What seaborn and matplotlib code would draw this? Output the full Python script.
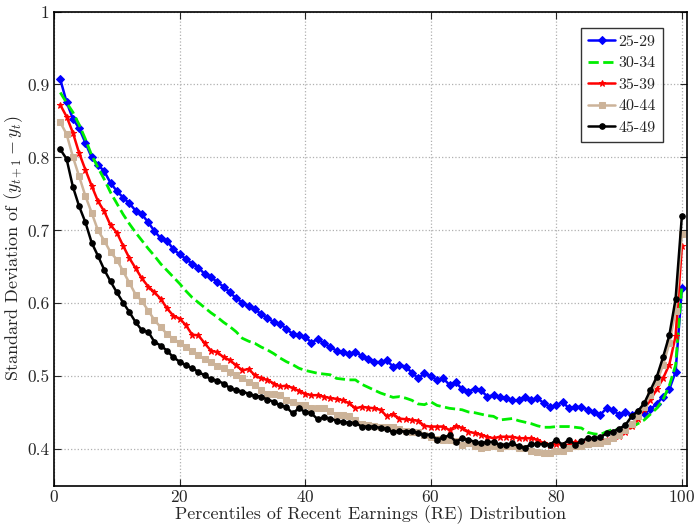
import numpy as np
import pandas as pd
import matplotlib
matplotlib.use("Agg")
import matplotlib.pyplot as plt
import seaborn as sns

# percentiles of recent earnings
percentiles = list(range(1, 101))

sd_25_29 = [
    0.907, 0.876, 0.853, 0.840, 0.820, 0.800, 0.790, 0.781, 0.765, 0.754,
    0.745, 0.737, 0.727, 0.722, 0.711, 0.699, 0.689, 0.686, 0.674, 0.667,
    0.661, 0.654, 0.649, 0.640, 0.636, 0.629, 0.623, 0.615, 0.607, 0.601,
    0.596, 0.592, 0.585, 0.580, 0.574, 0.572, 0.565, 0.558, 0.556, 0.554,
    0.546, 0.551, 0.545, 0.540, 0.535, 0.533, 0.531, 0.533, 0.528, 0.524,
    0.520, 0.519, 0.522, 0.513, 0.516, 0.513, 0.505, 0.497, 0.504, 0.500,
    0.495, 0.497, 0.488, 0.492, 0.482, 0.479, 0.483, 0.481, 0.472, 0.474,
    0.472, 0.470, 0.467, 0.467, 0.472, 0.467, 0.470, 0.463, 0.458, 0.460,
    0.465, 0.456, 0.458, 0.458, 0.454, 0.451, 0.447, 0.456, 0.454, 0.447,
    0.451, 0.447, 0.451, 0.450, 0.455, 0.462, 0.472, 0.482, 0.506, 0.621,
]

sd_30_34 = [
    0.889, 0.875, 0.862, 0.845, 0.825, 0.803, 0.786, 0.770, 0.752, 0.737,
    0.722, 0.709, 0.697, 0.686, 0.675, 0.665, 0.654, 0.645, 0.636, 0.627,
    0.617, 0.608, 0.601, 0.594, 0.587, 0.581, 0.574, 0.568, 0.561, 0.552,
    0.548, 0.545, 0.540, 0.536, 0.531, 0.525, 0.520, 0.516, 0.511, 0.508,
    0.506, 0.504, 0.503, 0.502, 0.497, 0.496, 0.495, 0.495, 0.489, 0.485,
    0.481, 0.477, 0.474, 0.471, 0.472, 0.470, 0.467, 0.462, 0.461, 0.465,
    0.460, 0.458, 0.456, 0.455, 0.454, 0.451, 0.450, 0.448, 0.446, 0.445,
    0.440, 0.441, 0.442, 0.439, 0.437, 0.435, 0.432, 0.430, 0.430, 0.431,
    0.431, 0.431, 0.430, 0.429, 0.423, 0.421, 0.420, 0.424, 0.427, 0.427,
    0.428, 0.430, 0.435, 0.440, 0.448, 0.456, 0.468, 0.487, 0.515, 0.625,
]

sd_35_39 = [
    0.872, 0.856, 0.834, 0.806, 0.783, 0.761, 0.740, 0.726, 0.707, 0.697,
    0.679, 0.662, 0.648, 0.634, 0.623, 0.615, 0.606, 0.593, 0.583, 0.579,
    0.570, 0.557, 0.556, 0.545, 0.535, 0.533, 0.526, 0.522, 0.515, 0.508,
    0.510, 0.501, 0.497, 0.495, 0.490, 0.486, 0.487, 0.484, 0.480, 0.476,
    0.474, 0.474, 0.472, 0.470, 0.469, 0.467, 0.463, 0.456, 0.458, 0.457,
    0.456, 0.454, 0.445, 0.448, 0.442, 0.441, 0.440, 0.439, 0.432, 0.431,
    0.431, 0.431, 0.426, 0.432, 0.429, 0.424, 0.422, 0.420, 0.417, 0.415,
    0.417, 0.417, 0.417, 0.415, 0.415, 0.415, 0.413, 0.408, 0.406, 0.407,
    0.406, 0.406, 0.410, 0.409, 0.410, 0.410, 0.411, 0.413, 0.415, 0.418,
    0.424, 0.432, 0.442, 0.455, 0.468, 0.482, 0.497, 0.516, 0.555, 0.678,
]

sd_40_44 = [
    0.848, 0.832, 0.801, 0.774, 0.747, 0.724, 0.700, 0.686, 0.670, 0.660,
    0.644, 0.628, 0.612, 0.603, 0.590, 0.577, 0.567, 0.558, 0.551, 0.546,
    0.540, 0.535, 0.529, 0.523, 0.520, 0.514, 0.511, 0.506, 0.502, 0.498,
    0.492, 0.488, 0.481, 0.476, 0.475, 0.474, 0.467, 0.464, 0.461, 0.460,
    0.456, 0.457, 0.456, 0.452, 0.447, 0.447, 0.445, 0.440, 0.435, 0.433,
    0.432, 0.431, 0.430, 0.431, 0.427, 0.425, 0.424, 0.423, 0.420, 0.416,
    0.414, 0.413, 0.413, 0.411, 0.406, 0.408, 0.404, 0.402, 0.403, 0.404,
    0.401, 0.404, 0.404, 0.401, 0.401, 0.397, 0.396, 0.395, 0.395, 0.397,
    0.397, 0.401, 0.404, 0.405, 0.407, 0.408, 0.409, 0.411, 0.415, 0.420,
    0.426, 0.434, 0.445, 0.458, 0.474, 0.492, 0.515, 0.545, 0.590, 0.695,
]

sd_45_49 = [
    0.811, 0.798, 0.760, 0.733, 0.711, 0.683, 0.665, 0.646, 0.630, 0.615,
    0.601, 0.588, 0.574, 0.563, 0.561, 0.547, 0.542, 0.535, 0.526, 0.520,
    0.515, 0.511, 0.506, 0.501, 0.496, 0.494, 0.490, 0.484, 0.481, 0.479,
    0.476, 0.473, 0.472, 0.468, 0.465, 0.460, 0.458, 0.449, 0.456, 0.451,
    0.449, 0.441, 0.444, 0.442, 0.439, 0.437, 0.436, 0.436, 0.431, 0.431,
    0.431, 0.429, 0.428, 0.423, 0.425, 0.424, 0.425, 0.422, 0.420, 0.420,
    0.413, 0.416, 0.419, 0.410, 0.415, 0.413, 0.410, 0.408, 0.410, 0.410,
    0.406, 0.406, 0.408, 0.404, 0.402, 0.407, 0.407, 0.407, 0.406, 0.413,
    0.406, 0.413, 0.406, 0.411, 0.415, 0.415, 0.416, 0.422, 0.424, 0.428,
    0.433, 0.445, 0.452, 0.463, 0.481, 0.499, 0.526, 0.556, 0.606, 0.720,
]

age_groups = ["25-29", "30-34", "35-39", "40-44", "45-49"]
series = [sd_25_29, sd_30_34, sd_35_39, sd_40_44, sd_45_49]

styles = {
    "25-29": dict(color="#0000ff", marker="D", markersize=4.5, linestyle="-", lw=1.8),
    "30-34": dict(color="#00ee00", marker=None, markersize=0, linestyle="--", lw=2.0),
    "35-39": dict(color="#ff0000", marker="*", markersize=5, linestyle="-", lw=1.8),
    "40-44": dict(color="#ccb399", marker="s", markersize=4.5, linestyle="-", lw=1.8),
    "45-49": dict(color="#000000", marker="o", markersize=4, linestyle="-", lw=1.8),
}

sns.set_style("ticks")
plt.rcParams["font.family"] = ["cmr10", "DejaVu Serif"]
plt.rcParams["mathtext.fontset"] = "cm"
plt.rcParams["axes.unicode_minus"] = False
plt.rcParams["axes.formatter.use_mathtext"] = True

fig = plt.figure(figsize=(6.97, 5.25), dpi=100)
ax = fig.add_axes([0.0775, 0.075, 0.908, 0.903])

for name, vals in zip(age_groups, series):
    st = styles[name]
    sns.lineplot(x=percentiles, y=vals, ax=ax, label=name, color=st["color"],
                 marker=st["marker"], markersize=st["markersize"],
                 markeredgecolor=st["color"], linestyle=st["linestyle"],
                 linewidth=st["lw"])

ax.set_xlim(0, 100.8)
ax.set_ylim(0.35, 1.0)
ax.set_xticks([0, 20, 40, 60, 80, 100])
ax.set_yticks([0.4, 0.5, 0.6, 0.7, 0.8, 0.9, 1.0])
ax.set_yticklabels(["0.4", "0.5", "0.6", "0.7", "0.8", "0.9", "1"])
ax.grid(True, linestyle=":", color="#b0b0b0", linewidth=0.9)
ax.tick_params(direction="in", top=True, right=True, labelsize=12.5, length=5)
ax.tick_params(axis="x", pad=2.5)
for sp in ax.spines.values():
    sp.set_linewidth(1.2)
    sp.set_color("black")

ax.set_xlabel("Percentiles of Recent Earnings (RE) Distribution", fontsize=13)
ax.set_ylabel(r"Standard Deviation of $(y_{t+1} - y_t)$", fontsize=13)
ax.xaxis.set_label_coords(0.5, -0.041)
ax.yaxis.set_label_coords(-0.046, 0.5)

leg = ax.legend(loc="upper right", bbox_to_anchor=(0.962, 0.966), fontsize=11.5,
                frameon=True, fancybox=False, edgecolor="black",
                handlelength=1.7, handletextpad=0.2, borderpad=0.45,
                labelspacing=0.45, borderaxespad=0)
leg.get_frame().set_linewidth(1.0)

fig.savefig("out.png", dpi=100)
